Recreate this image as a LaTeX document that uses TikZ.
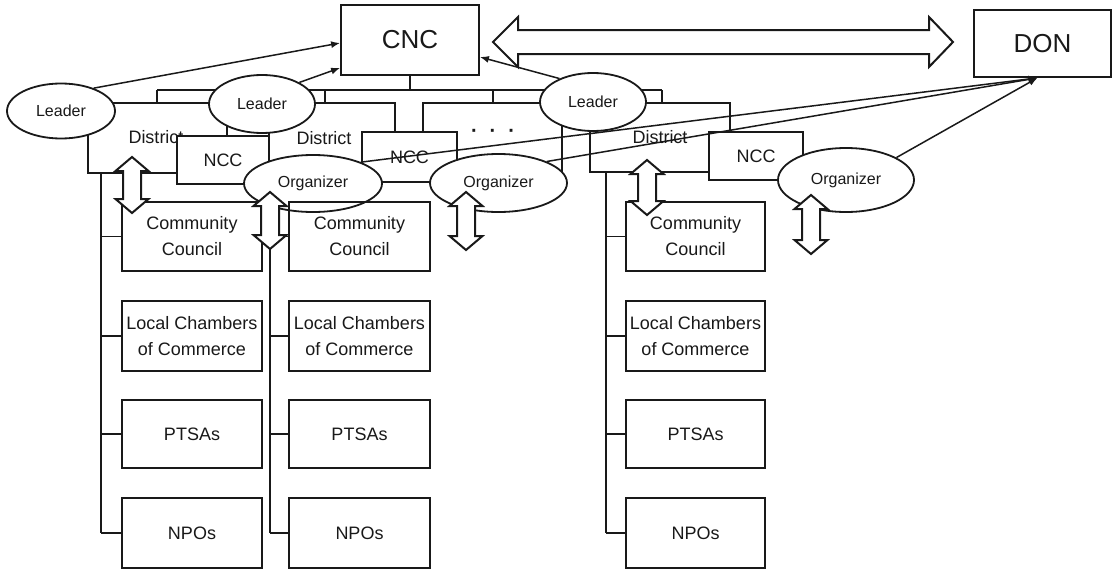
\documentclass[tikz,border=0pt]{standalone}
\usepackage{fontspec}
\setmainfont{Liberation Sans}
\usetikzlibrary{shapes.geometric,arrows.meta,calc}
\newcommand\vdarr[3]{%
  \draw[darr] (#1,#2) -- (#1+16.5,#2+14) -- (#1+9,#2+14) -- (#1+9,#3-14) -- (#1+16.5,#3-14) -- (#1,#3)
    -- (#1-16.5,#3-14) -- (#1-9,#3-14) -- (#1-9,#2+14) -- (#1-16.5,#2+14) -- cycle;}
\begin{document}
\begin{tikzpicture}[x=1pt,y=-1pt,
  every node/.style={text=black!90, align=center, inner sep=0pt},
  ln/.style={line width=1.8pt, draw=black!90},
  rbox/.style={draw=black!90, line width=1.8pt, font=\fontsize{18pt}{26pt}\selectfont},
  wbox/.style={rbox, fill=white},
  ell/.style={ellipse, draw=black!90, line width=1.8pt, fill=white, font=\fontsize{16pt}{18pt}\selectfont},
  lbl/.style={font=\fontsize{18pt}{22pt}\selectfont},
  arr/.style={ln, line width=1.5pt, -{Latex[length=9pt,width=7pt]}},
  darr/.style={draw=black!90, line width=2pt, fill=white, line join=miter}
]
\fill[white] (0,0) rectangle (1113,570);
\useasboundingbox (0,0) rectangle (1113,570);

% top boxes
\node[rbox, minimum width=138pt, minimum height=70pt, font=\fontsize{26pt}{30pt}\selectfont] (cnc) at (410,40) {CNC};
\node[rbox, minimum width=137pt, minimum height=67pt, font=\fontsize{26pt}{30pt}\selectfont] (don) at (1042.5,43.5) {DON};

% tree bar
\draw[ln] (cnc.south) -- (410,90);
\draw[ln] (157,90) -- (662,90);
\draw[ln] (157,90) -- (157,103);
\draw[ln] (325,90) -- (325,103);
\draw[ln] (493,90) -- (493,103);
\draw[ln] (662,90) -- (662,103);

% district boxes
\node[rbox, minimum width=139pt, minimum height=70pt] (d1) at (157.5,138) {};
\node[rbox, minimum width=126pt, minimum height=70pt] (d2) at (332,138) {};
\node[rbox, minimum width=139pt, minimum height=70pt] (d3) at (492.5,138) {};
\node[rbox, minimum width=140pt, minimum height=69pt] (d4) at (660,137.5) {};
\node[lbl] (d1t) at (156,137) {District};
\node[lbl] (d2t) at (324,138) {District};
\node[font=\fontsize{20pt}{22pt}\selectfont\bfseries] (d3t) at (493,133) {·\hspace{12pt}·\hspace{12pt}·};
\node[lbl] (d4t) at (660,137) {District};

% spines
\draw[ln] (101,173) -- (101,533);
\draw[ln] (270,184) -- (270,533);
\draw[ln] (606,172) -- (606,533);

% NCC boxes
\node[wbox, minimum width=92pt, minimum height=48pt] (ncc1) at (223,160) {NCC};
\node[wbox, minimum width=95pt, minimum height=50pt] (ncc2) at (409.5,157) {NCC};
\node[wbox, minimum width=94pt, minimum height=48pt] (ncc3) at (756,156) {NCC};

% leaders
\node[ell, minimum width=108pt, minimum height=55pt] (l1) at (61,111) {Leader};
\node[ell, minimum width=106pt, minimum height=58pt] (l2) at (262,104) {Leader};
\node[ell, minimum width=106pt, minimum height=58pt] (l3) at (593,102) {Leader};

% organizers
\node[ell, minimum width=138pt, minimum height=57pt] (o1) at (313,183.5) {Organizer};
\node[ell, minimum width=137pt, minimum height=58pt] (o2) at (498.5,183) {Organizer};
\node[ell, minimum width=136pt, minimum height=64pt] (o3) at (846,180) {Organizer};

% member boxes
\foreach \c/\x/\w/\s in {1/192/140/101, 2/359.5/141/270, 3/695.5/139/606} {
  \node[rbox, minimum width=\w pt, minimum height=69pt] (cc\c) at (\x,236.5) {Community\\Council};
  \node[rbox, minimum width=\w pt, minimum height=70pt] (lc\c) at (\x,336) {Local Chambers\\of Commerce};
  \node[rbox, minimum width=\w pt, minimum height=68pt] (pt\c) at (\x,434) {PTSAs};
  \node[rbox, minimum width=\w pt, minimum height=70pt] (np\c) at (\x,533) {NPOs};
  \draw[ln] (\s,236.5) -- (cc\c.west);
  \draw[ln] (\s,336) -- (lc\c.west);
  \draw[ln] (\s,434) -- (pt\c.west);
  \draw[ln] (\s,533) -- (np\c.west);
}

% vertical double arrows
\vdarr{132}{157}{213}
\vdarr{270}{192}{249}
\vdarr{466}{192}{250}
\vdarr{647}{160}{215}
\vdarr{811}{195}{254}

% CNC <-> DON big double arrow
\draw[darr] (493,42) -- (518,17) -- (518,30) -- (929,30) -- (929,17) -- (953,42)
  -- (929,67) -- (929,54) -- (518,54) -- (518,67) -- cycle;

% arrows to CNC
\draw[arr] (l1.35) -- (cnc.west |- 0,43);
\draw[arr] (l2.30) -- ($(cnc.south west)+(0,-8)$);
\draw[arr] (l3.145) -- ($(cnc.east)+(0,17)$);

% arrows to DON
\coordinate (donport) at ($(don.south)+(-5,0)$);
\draw[arr] (o1.24) -- (donport);
\draw[arr] (o2.24) -- (donport);
\draw[arr] (o3.24) -- (donport);
\end{tikzpicture}
\end{document}
